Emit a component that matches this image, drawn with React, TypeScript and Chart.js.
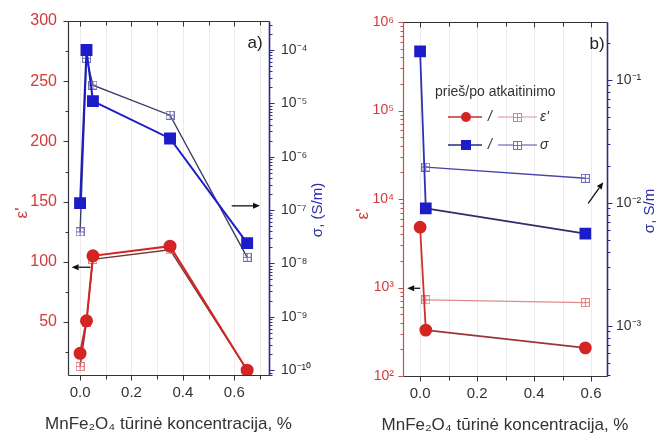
import React, { useEffect, useRef } from 'react';
import { Chart, registerables } from 'chart.js';
Chart.register(...registerables);

const FONT = "'Liberation Sans', Arial, sans-serif";

// ---------- Panel a data ----------
const xA = [0, 0.025, 0.05, 0.35, 0.65];
const epsBeforeA = [24, 51, 105, 113, 10];
const epsAfterA = [13, 50, 102, 110, 10];
const sigmaBeforeA = [1.35e-7, 1.0e-4, 1.1e-5, 2.2e-6, 2.4e-8];
const sigmaAfterA = [3.9e-8, 7e-5, 2.2e-5, 6e-6, 1.3e-8];

// ---------- Panel b data ----------
const xB = [0, 0.02, 0.58];
const epsBeforeB = [4800, 330, 208];
const xBAfter = [0.02, 0.58];
const epsAfterB = [725, 675];
const sigmaBeforeB = [0.17, 0.009, 0.0056];
const sigmaAfterB = [0.0195, 0.0158];

// ---------- ticks / labels ----------
const xTicks = [0, 0.2, 0.4, 0.6];
const xMinorTicks = [0.1, 0.3, 0.5, 0.7];
const epsTicksA = [50, 100, 150, 200, 250, 300];
const epsMinorA = [25, 75, 125, 175, 225, 275];
const sigmaExpA = [-10, -9, -8, -7, -6, -5, -4];
const epsExpB = [2, 3, 4, 5, 6];
const sigmaExpB = [-3, -2, -1];

const xTitle = 'MnFe₂O₄ tūrinė koncentracija, %';
const epsTitle = "ε'";
const sigmaTitleA = 'σ, (S/m)';
const sigmaTitleB = 'σ, S/m';
const legendTitle = 'prieš/po atkaitinimo';
const legendEps = "ε'";
const legendSigma = 'σ';

const SUP: Record<string, string> = { '-': '⁻', '0': '⁰', '1': '¹', '2': '²', '3': '³', '4': '⁴', '5': '⁵', '6': '⁶', '7': '⁷', '8': '⁸', '9': '⁹' };
const pow10Label = (e: number) => '10' + String(e).split('').map((c) => SUP[c]).join('');

const logMinors = (e0: number, e1: number) => {
  const out: number[] = [];
  for (let e = e0; e <= e1; e++) for (let m = 2; m <= 9; m++) out.push(m * Math.pow(10, e));
  return out;
};

function boxPlus(color: string, size = 9) {
  const c = document.createElement('canvas');
  c.width = size;
  c.height = size;
  const g = c.getContext('2d')!;
  g.strokeStyle = color;
  g.lineWidth = 1;
  g.strokeRect(0.5, 0.5, size - 1, size - 1);
  g.beginPath();
  const h = Math.floor(size / 2) + 0.5;
  g.moveTo(h, 0.5); g.lineTo(h, size - 0.5);
  g.moveTo(0.5, h); g.lineTo(size - 0.5, h);
  g.stroke();
  return c;
}

const RED = '#d42424';
const BLUE = '#1c1cc8';
const FRAME = '#333';
const NAVY = '#2a2a8a';
const RED_TXT = '#d03a3a';

type Arrow = { axis: 'yL' | 'yR'; x0: number; y0: number; x1: number; y1: number };
type Spec = {
  leftMajors: number[]; leftMinors: number[]; leftAxisColor: string;
  rightMajors: number[]; rightMinors: number[];
  leftTitleDx: number; rightTitleDx: number; rightTitle: string;
  tag: string; tagDx: number; tagDy: number;
  arrows: Arrow[]; legend: boolean;
};

function drawArrow(ctx: CanvasRenderingContext2D, x0: number, y0: number, x1: number, y1: number) {
  const ang = Math.atan2(y1 - y0, x1 - x0);
  const hl = 7, hw = 3;
  ctx.strokeStyle = '#111';
  ctx.fillStyle = '#111';
  ctx.lineWidth = 1.3;
  ctx.beginPath();
  ctx.moveTo(x0, y0);
  ctx.lineTo(x1 - Math.cos(ang) * hl, y1 - Math.sin(ang) * hl);
  ctx.stroke();
  ctx.beginPath();
  ctx.moveTo(x1, y1);
  ctx.lineTo(x1 - Math.cos(ang) * hl - Math.sin(ang) * hw, y1 - Math.sin(ang) * hl + Math.cos(ang) * hw);
  ctx.lineTo(x1 - Math.cos(ang) * hl + Math.sin(ang) * hw, y1 - Math.sin(ang) * hl - Math.cos(ang) * hw);
  ctx.closePath();
  ctx.fill();
}

function makeDecor(spec: Spec) {
  return {
    id: 'decor',
    beforeDatasetsDraw(chart: any) {
      const { ctx, chartArea: ca, scales } = chart;
      ctx.save();
      ctx.strokeStyle = '#ececec';
      ctx.lineWidth = 1;
      [...xTicks, ...xMinorTicks].forEach((v) => {
        const px = Math.round(scales.x.getPixelForValue(v)) + 0.5;
        if (px <= ca.left + 1 || px >= ca.right - 1) return;
        ctx.beginPath(); ctx.moveTo(px, ca.top); ctx.lineTo(px, ca.bottom); ctx.stroke();
      });
      ctx.restore();
    },
    afterDraw(chart: any) {
      const { ctx, chartArea: ca, scales } = chart;
      const sx = scales.x, yl = scales.yL, yr = scales.yR;
      ctx.save();
      ctx.lineWidth = 1;
      const line = (c: string, x0: number, y0: number, x1: number, y1: number) => {
        ctx.strokeStyle = c; ctx.beginPath(); ctx.moveTo(x0, y0); ctx.lineTo(x1, y1); ctx.stroke();
      };
      const L = Math.round(ca.left) + 0.5, R = Math.round(ca.right) + 0.5;
      const T = Math.round(ca.top) + 0.5, B = Math.round(ca.bottom) + 0.5;
      // x ticks bottom (outward) and top (inward)
      xTicks.concat(xMinorTicks).forEach((v, i) => {
        const px = Math.round(sx.getPixelForValue(v)) + 0.5;
        if (px < L || px > R) return;
        const len = i < xTicks.length ? 5 : 4;
        line(FRAME, px, B, px, B + len);
        line(FRAME, px, T, px, T + len);
      });
      // left ticks
      spec.leftMajors.forEach((v) => {
        const py = Math.round(yl.getPixelForValue(v)) + 0.5;
        if (py < T - 0.1 || py > B + 0.1) return;
        line(spec.leftAxisColor, L - 5, py, L, py);
      });
      spec.leftMinors.forEach((v) => {
        const py = Math.round(yl.getPixelForValue(v)) + 0.5;
        if (py < T || py > B) return;
        line(spec.leftAxisColor, L - 3, py, L, py);
      });
      // right ticks
      spec.rightMajors.forEach((v) => {
        const py = Math.round(yr.getPixelForValue(v)) + 0.5;
        if (py < T - 0.1 || py > B + 0.1) return;
        line(NAVY, R, py, R + 5, py);
      });
      spec.rightMinors.forEach((v) => {
        const py = Math.round(yr.getPixelForValue(v)) + 0.5;
        if (py < T || py > B) return;
        line(NAVY, R, py, R + 3, py);
      });
      // frame
      ctx.lineWidth = 1.2;
      line(FRAME, L, T, R, T);
      line(FRAME, L, B, R, B);
      line(spec.leftAxisColor, L, T, L, B);
      ctx.lineWidth = 1.6;
      line(NAVY, R, T, R, B);

      // titles
      const midY = (ca.top + ca.bottom) / 2;
      ctx.textAlign = 'center';
      ctx.textBaseline = 'middle';
      ctx.save();
      ctx.translate(ca.left + spec.leftTitleDx, midY + 15);
      ctx.rotate(-Math.PI / 2);
      ctx.fillStyle = RED_TXT;
      ctx.font = `17px ${FONT}`;
      ctx.fillText(epsTitle, 0, 0);
      ctx.restore();
      ctx.save();
      ctx.translate(ca.right + spec.rightTitleDx, midY + 12);
      ctx.rotate(-Math.PI / 2);
      ctx.fillStyle = '#2d2da8';
      ctx.font = `15px ${FONT}`;
      ctx.fillText(spec.rightTitle, 0, 0);
      ctx.restore();
      ctx.fillStyle = '#333';
      ctx.font = `17px ${FONT}`;
      ctx.fillText(xTitle, (ca.left + ca.right) / 2, ca.bottom + 49);

      // panel tag
      ctx.fillStyle = '#222';
      ctx.font = `17px ${FONT}`;
      ctx.fillText(spec.tag, ca.right + spec.tagDx, ca.top + spec.tagDy);

      // arrows
      spec.arrows.forEach((a) => {
        const ys = a.axis === 'yL' ? yl : yr;
        drawArrow(ctx, sx.getPixelForValue(a.x0), ys.getPixelForValue(a.y0), sx.getPixelForValue(a.x1), ys.getPixelForValue(a.y1));
      });

      // legend
      if (spec.legend) {
        const lx = ca.left;
        ctx.font = `14px ${FONT}`;
        ctx.textAlign = 'left';
        ctx.fillStyle = '#333';
        ctx.fillText(legendTitle, lx + 32, ca.top + 70);
        const row = (y: number, filledColor: string, lineDark: string, hollowColor: string, hollowLine: string, circle: boolean, label: string) => {
          ctx.lineWidth = 1.5;
          line(lineDark, lx + 45, y, lx + 79, y);
          ctx.fillStyle = filledColor;
          ctx.beginPath();
          if (circle) ctx.arc(lx + 63, y, 5, 0, Math.PI * 2);
          else ctx.rect(lx + 58, y - 5, 10, 10);
          ctx.fill();
          ctx.fillStyle = '#333';
          ctx.font = `italic 14px ${FONT}`;
          ctx.textAlign = 'center';
          ctx.fillText('/', lx + 87, y);
          ctx.lineWidth = 1.2;
          line(hollowLine, lx + 95, y, lx + 134, y);
          ctx.fillStyle = '#fff';
          ctx.fillRect(lx + 110, y - 4, 9, 9);
          ctx.drawImage(boxPlus(hollowColor), lx + 110, y - 4);
          ctx.fillStyle = '#333';
          ctx.textAlign = 'left';
          ctx.font = `italic 14px ${FONT}`;
          ctx.fillText(label, lx + 137, y);
        };
        row(ca.top + 95, RED, '#c03030', '#e08080', '#e09090', true, legendEps);
        row(ca.top + 123, BLUE, '#2a2a80', '#7070c0', '#5050b0', false, legendSigma);
      }
      ctx.restore();
    },
  };
}

const pts = (xs: number[], ys: number[]) => xs.map((x, i) => ({ x, y: ys[i] }));

function axisX(min: number, max: number, bottomH: number) {
  return {
    type: 'linear', min, max,
    afterBuildTicks: (s: any) => { s.ticks = xTicks.map((v) => ({ value: v })); },
    afterFit: (s: any) => { s.height = bottomH; },
    grid: { display: false, drawTicks: false },
    border: { display: false },
    ticks: { color: '#333', font: { family: FONT, size: 15 }, padding: 9, maxRotation: 0, autoSkip: false, callback: (v: any) => Number(v).toFixed(1) },
  };
}

function axisY(opts: { log: boolean; min: number; max: number; pos: 'left' | 'right'; width: number; majors: number[]; color: string; pad: number; size: number }) {
  return {
    type: opts.log ? 'logarithmic' : 'linear',
    position: opts.pos,
    min: opts.min, max: opts.max,
    afterBuildTicks: (s: any) => { s.ticks = opts.majors.map((v) => ({ value: v })); },
    afterFit: (s: any) => { s.width = opts.width; },
    grid: { display: false, drawTicks: false },
    border: { display: false },
    ticks: {
      color: opts.color, font: { family: FONT, size: opts.size }, padding: opts.pad, autoSkip: false,
      callback: (v: any) => (opts.log ? pow10Label(Math.round(Math.log10(Number(v)))) : String(v)),
    },
  };
}

function configA(): any {
  const hR = boxPlus('#e08080');
  const hB = boxPlus('#7070b0');
  const sigMajors = sigmaExpA.map((e) => Math.pow(10, e));
  const spec: Spec = {
    leftMajors: epsTicksA, leftMinors: epsMinorA, leftAxisColor: FRAME,
    rightMajors: sigMajors, rightMinors: logMinors(-11, -4),
    leftTitleDx: -46, rightTitleDx: 49, rightTitle: sigmaTitleA,
    tag: 'a)', tagDx: -14, tagDy: 22,
    arrows: [
      { axis: 'yL', x0: 0.04, y0: 95.5, x1: -0.033, y1: 95.5 },
      { axis: 'yR', x0: 0.59, y0: 1.2e-7, x1: 0.70, y1: 1.2e-7 },
    ],
    legend: false,
  };
  return {
    type: 'line',
    data: {
      datasets: [
        { data: pts(xA, epsBeforeA), yAxisID: 'yL', borderColor: RED, backgroundColor: RED, borderWidth: 2, pointStyle: 'circle', pointRadius: 5.5 },
        { data: pts(xA, sigmaBeforeA), yAxisID: 'yR', borderColor: BLUE, backgroundColor: BLUE, borderWidth: 2, pointStyle: 'rect', pointRadius: 7 },
        { data: pts(xA, epsAfterA), yAxisID: 'yL', borderColor: '#7a3434', backgroundColor: '#fff', borderWidth: 1.4, pointStyle: hR, pointRadius: 5 },
        { data: pts(xA, sigmaAfterA), yAxisID: 'yR', borderColor: '#3c3c66', backgroundColor: '#fff', borderWidth: 1.4, pointStyle: hB, pointRadius: 5 },
      ],
    },
    options: {
      animation: false, responsive: false, maintainAspectRatio: false, devicePixelRatio: 1,
      layout: { padding: { top: 21, left: 0, right: 0, bottom: 0 } },
      plugins: { legend: { display: false }, tooltip: { enabled: false } },
      elements: { line: { tension: 0, fill: false } },
      scales: {
        x: axisX(-0.047, 0.735, 65),
        yL: axisY({ log: false, min: 6, max: 300, pos: 'left', width: 68, majors: epsTicksA, color: RED_TXT, pad: 11, size: 16 }),
        yR: axisY({ log: true, min: 8.1e-11, max: 3.5e-4, pos: 'right', width: 65, majors: sigMajors, color: '#333', pad: 12, size: 14 }),
      },
    },
    plugins: [makeDecor(spec)],
  };
}

function configB(): any {
  const hR = boxPlus('#e08080');
  const hB = boxPlus('#6a6ab8');
  const epsMajors = epsExpB.map((e) => Math.pow(10, e));
  const sigMajors = sigmaExpB.map((e) => Math.pow(10, e));
  const spec: Spec = {
    leftMajors: epsMajors, leftMinors: logMinors(2, 5), leftAxisColor: '#c05050',
    rightMajors: sigMajors, rightMinors: logMinors(-4, -1),
    leftTitleDx: -40, rightTitleDx: 43, rightTitle: sigmaTitleB,
    tag: 'b)', tagDx: -10, tagDy: 22,
    arrows: [
      { axis: 'yL', x0: 0.0, y0: 980, x1: -0.045, y1: 980 },
      { axis: 'yR', x0: 0.59, y0: 0.0099, x1: 0.643, y1: 0.0147 },
    ],
    legend: true,
  };
  const seg = (bright: string, dark: string) => ({ borderColor: (c: any) => (c.p0DataIndex === 0 ? bright : dark) });
  return {
    type: 'line',
    data: {
      datasets: [
        { data: pts(xB, epsBeforeB), yAxisID: 'yL', borderColor: RED, backgroundColor: RED, borderWidth: 1.8, pointStyle: 'circle', pointRadius: 5.5, segment: seg('#d03030', '#9a3636') },
        { data: pts(xB, sigmaBeforeB), yAxisID: 'yR', borderColor: BLUE, backgroundColor: BLUE, borderWidth: 1.8, pointStyle: 'rect', pointRadius: 7, segment: seg('#3030b8', '#2e2e6a') },
        { data: pts(xBAfter, epsAfterB), yAxisID: 'yL', borderColor: '#e08c8c', backgroundColor: '#fff', borderWidth: 1.4, pointStyle: hR, pointRadius: 5 },
        { data: pts(xBAfter, sigmaAfterB), yAxisID: 'yR', borderColor: '#4646a8', backgroundColor: '#fff', borderWidth: 1.4, pointStyle: hB, pointRadius: 5 },
      ],
    },
    options: {
      animation: false, responsive: false, maintainAspectRatio: false, devicePixelRatio: 1,
      layout: { padding: { top: 22, left: 0, right: 0, bottom: 0 } },
      plugins: { legend: { display: false }, tooltip: { enabled: false } },
      elements: { line: { tension: 0, fill: false } },
      scales: {
        x: axisX(-0.06, 0.656, 64),
        yL: axisY({ log: true, min: 100, max: 1e6, pos: 'left', width: 69, majors: epsMajors, color: RED_TXT, pad: 9, size: 14 }),
        yR: axisY({ log: true, min: 3.9e-4, max: 0.295, pos: 'right', width: 61, majors: sigMajors, color: '#333', pad: 9, size: 14 }),
      },
    },
    plugins: [makeDecor(spec)],
  };
}

export default function App() {
  const refA = useRef<HTMLCanvasElement>(null);
  const refB = useRef<HTMLCanvasElement>(null);
  useEffect(() => {
    const a = new Chart(refA.current!, configA());
    const b = new Chart(refB.current!, configB());
    return () => { a.destroy(); b.destroy(); };
  }, []);
  return (
    <div style={{ position: 'fixed', left: 0, top: 0, width: 668, height: 440, background: '#fff' }}>
      <canvas ref={refA} width={334} height={440} style={{ position: 'absolute', left: 0, top: 0, width: 334, height: 440 }} />
      <canvas ref={refB} width={334} height={440} style={{ position: 'absolute', left: 334, top: 0, width: 334, height: 440 }} />
    </div>
  );
}
